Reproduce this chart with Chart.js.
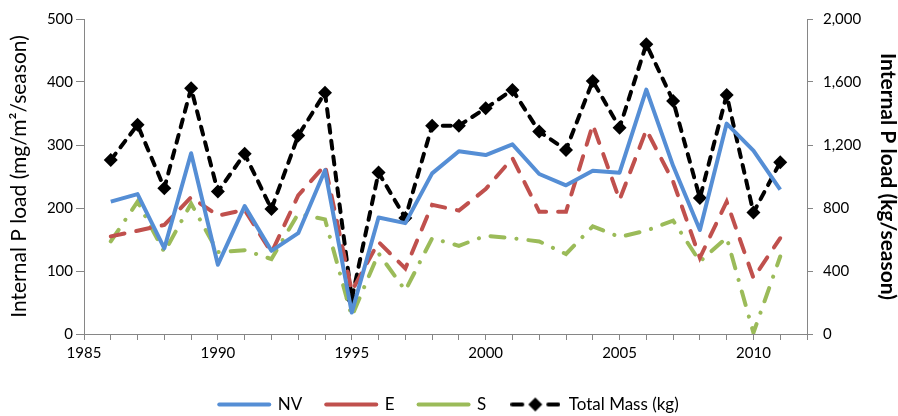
<!DOCTYPE html>
<html>
<head>
<meta charset="utf-8">
<script src="https://cdn.jsdelivr.net/npm/chart.js@4"></script>
<style>
html,body{margin:0;padding:0;background:#fff;}
#wrap{width:898px;height:416px;}
</style>
</head>
<body>
<div id="wrap"><canvas id="c" width="898" height="416"></canvas></div>
<script>
const years = [1986,1987,1988,1989,1990,1991,1992,1993,1994,1995,1996,1997,1998,1999,2000,2001,2002,2003,2004,2005,2006,2007,2008,2009,2010,2011];
const nv = [210,222,136,287,110,203,132,160,260,34,185,176,255,290,284,301,254,236,259,256,388,267,165,334,291,229];
const e  = [155,164,173,217,188,197,129,220,268,68,146,104,205,196,230,279,194,194,332,213,324,242,121,210,89,152];
const s  = [147,210,130,207,130,133,119,191,182,28,128,69,152,140,156,152,147,127,171,154,164,180,115,153,2,123];
const totalMass = [1105,1328,926,1560,904,1144,793,1260,1532,224,1025,736,1323,1323,1433,1550,1285,1169,1607,1310,1840,1480,863,1518,771,1091];
const leftTicks = [0,100,200,300,400,500];
const rightTicks = [0,400,800,1200,1600,2000];
const xLabelYears = [1985,1990,1995,2000,2005,2010];

const FONT = 'Lato, "Open Sans", sans-serif';
const AXIS = '#868686';
const pts = arr => years.map((y,i)=>({x:y,y:arr[i]}));

function massSymbol(){
  const cv = document.createElement('canvas');
  cv.width = 50; cv.height = 16;
  const c = cv.getContext('2d');
  c.strokeStyle = '#000'; c.lineWidth = 4; c.lineCap = 'round';
  c.beginPath(); c.moveTo(2,8); c.lineTo(12,8); c.stroke();
  c.beginPath(); c.moveTo(38,8); c.lineTo(48,8); c.stroke();
  c.fillStyle = '#000';
  c.beginPath(); c.moveTo(25,1); c.lineTo(32,8); c.lineTo(25,15); c.lineTo(18,8); c.closePath(); c.fill();
  return cv;
}
const massIcon = massSymbol();

const legendShift = {
  id:'legendShift',
  afterLayout(chart){
    const l = chart.legend;
    if (l) { l.top += 8; l.bottom += 8; }
  }
};

new Chart(document.getElementById('c'), {
  type: 'line',
  plugins:[legendShift],
  data: {
    datasets: [
      {label:'NV', data:pts(nv), yAxisID:'y', borderColor:'#558ED5', backgroundColor:'#558ED5', borderWidth:4, pointRadius:0, tension:0, borderJoinStyle:'round'},
      {label:'E', data:pts(e), yAxisID:'y', borderColor:'#C0504D', backgroundColor:'#C0504D', borderWidth:4, borderDash:[14,12], borderCapStyle:'round', pointRadius:0, tension:0},
      {label:'S', data:pts(s), yAxisID:'y', borderColor:'#9BBB59', backgroundColor:'#9BBB59', borderWidth:4, borderDash:[14,12,0.1,12], borderCapStyle:'round', pointRadius:0, tension:0},
      {label:'Total Mass (kg)', data:pts(totalMass), yAxisID:'y2', borderColor:'#000', backgroundColor:'#000', borderWidth:4, borderDash:[8,8], borderCapStyle:'round', pointStyle:'rectRot', pointRadius:7, pointBorderWidth:0, pointBackgroundColor:'#000', tension:0}
    ]
  },
  options: {
    responsive:false, animation:false, devicePixelRatio:1,
    layout:{padding:{top:19,left:0,right:0,bottom:1}},
    plugins:{
      tooltip:{enabled:false},
      legend:{
        position:'bottom',
        labels:{
          font:{family:FONT,size:17}, color:'#000', padding:24,
          usePointStyle:true, pointStyleWidth:50,
          generateLabels(chart){
            const items = Chart.defaults.plugins.legend.labels.generateLabels(chart);
            items.forEach((it,i)=>{
              it.pointStyle = i===3 ? massIcon : 'line';
              it.lineCap = 'round';
            });
            return items;
          }
        }
      }
    },
    scales:{
      x:{
        type:'linear', min:1985, max:2012,
        afterFit(sc){ sc.height = 30; },
        afterBuildTicks(sc){ sc.ticks = []; for(let v=1985; v<=2012; v++) sc.ticks.push({value:v}); },
        ticks:{autoSkip:false, maxRotation:0, font:{family:FONT,size:15}, color:'#000', padding:4,
          callback:v => xLabelYears.includes(v) ? String(v) : ''},
        grid:{drawOnChartArea:false, color:AXIS, tickLength:6},
        border:{color:AXIS}
      },
      y:{
        position:'left', min:0, max:500,
        afterFit(sc){ sc.width = 84; },
        afterBuildTicks(sc){ sc.ticks = leftTicks.map(v=>({value:v})); },
        ticks:{font:{family:FONT,size:15}, color:'#000', padding:3},
        grid:{drawOnChartArea:false, color:AXIS, tickLength:8},
        border:{color:AXIS},
        title:{display:true, text:'Internal P load (mg/m\u00B2/season)', font:{family:FONT,size:21,lineHeight:1}, color:'#000', padding:{top:9,bottom:0}}
      },
      y2:{
        position:'right', min:0, max:2000,
        afterFit(sc){ sc.width = 91; },
        afterBuildTicks(sc){ sc.ticks = rightTicks.map(v=>({value:v})); },
        ticks:{font:{family:FONT,size:15}, color:'#000', padding:10,
          callback:v => v.toLocaleString('en-US')},
        grid:{drawOnChartArea:false, color:AXIS, tickLength:6},
        border:{color:AXIS},
        title:{display:true, text:'Internal P load (kg/season)', font:{family:FONT,size:21,weight:'bold',lineHeight:1}, color:'#000', padding:{top:0,bottom:0}}
      }
    }
  }
});
</script>
</body>
</html>
